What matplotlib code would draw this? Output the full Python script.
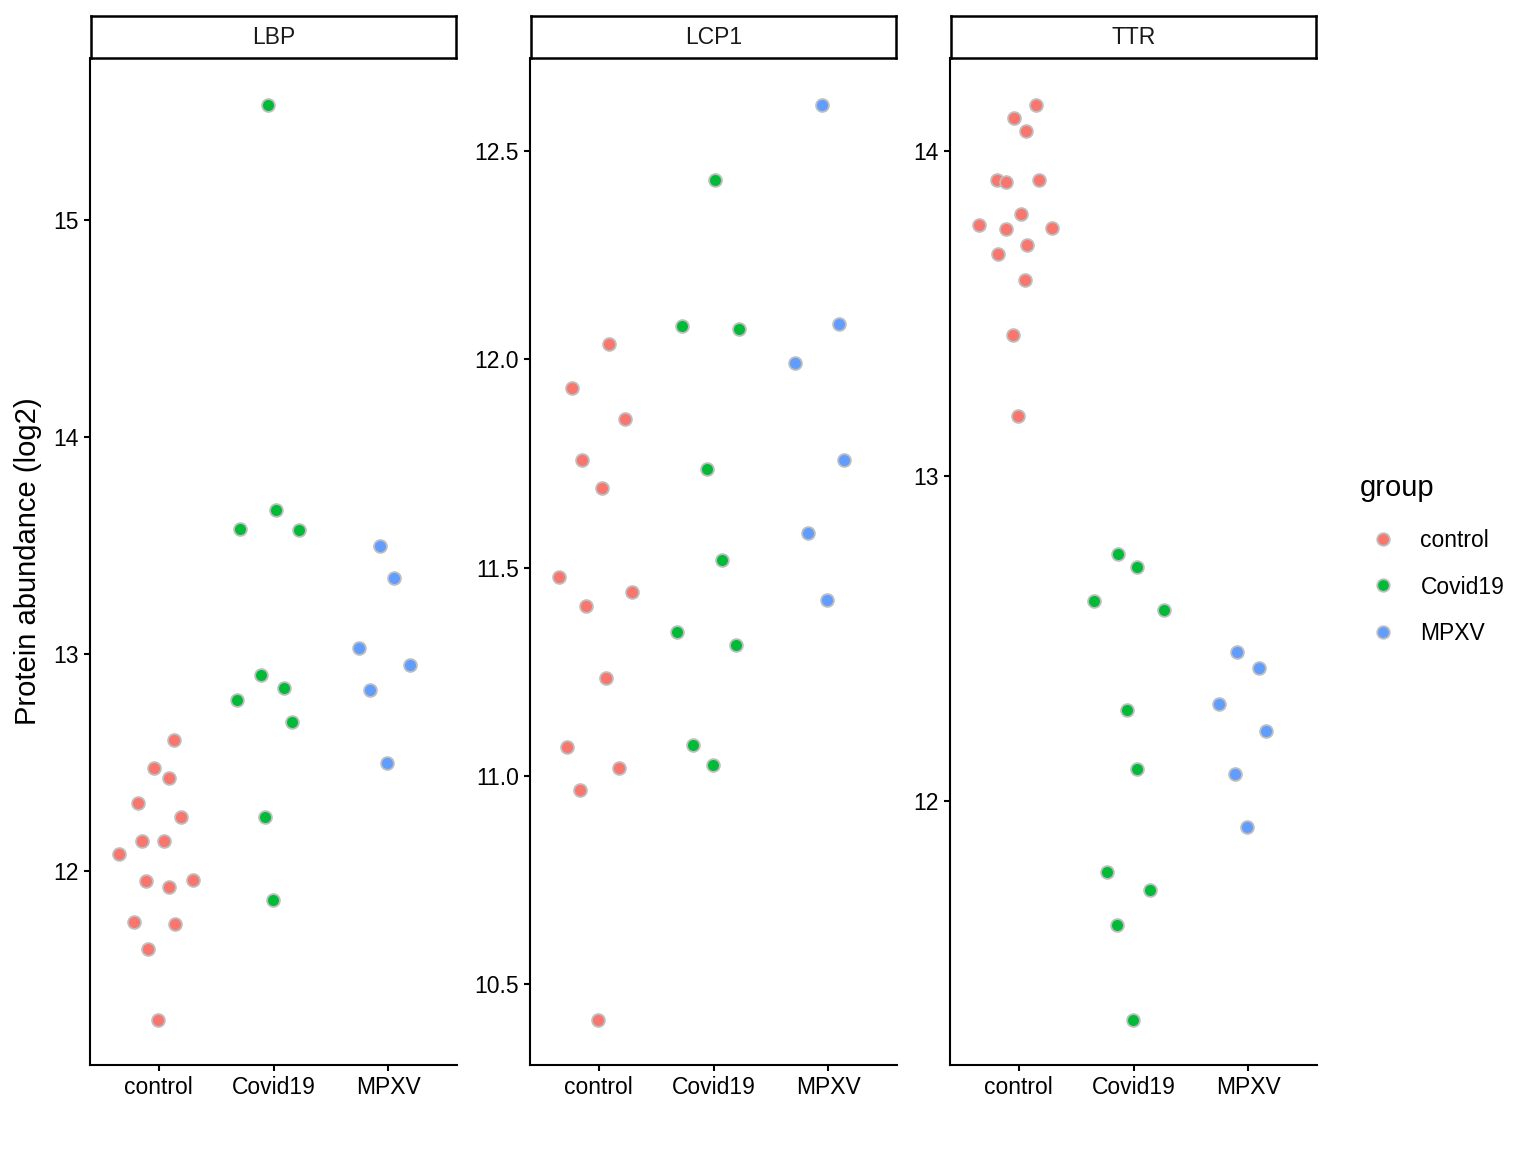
import numpy as np
import matplotlib.pyplot as plt

plt.rcParams['font.family'] = ['Liberation Sans', 'DejaVu Sans']

groups = ['control', 'Covid19', 'MPXV']
colors = {'control': '#F8766D', 'Covid19': '#00BA38', 'MPXV': '#619CFF'}
proteins = ['LBP', 'LCP1', 'TTR']

# jitter offsets (dx) and values
lbp_control_dx = [0.14, -0.03, 0.10, -0.17, 0.20, -0.14, 0.05, -0.34, -0.10, 0.10, 0.31, -0.21, 0.15, -0.09, 0.0]
lbp_control = [12.604, 12.475, 12.429, 12.313, 12.249, 12.138, 12.138, 12.078, 11.954, 11.926, 11.959, 11.765, 11.756, 11.641, 11.313]
lbp_covid_dx = [-0.04, -0.28, 0.03, 0.23, -0.31, -0.10, 0.10, 0.17, -0.07, 0.0]
lbp_covid = [15.530, 13.576, 13.664, 13.571, 12.788, 12.903, 12.843, 12.687, 12.249, 11.866]
lbp_mpxv_dx = [-0.06, 0.06, -0.25, 0.20, -0.15, 0.0]
lbp_mpxv = [13.498, 13.350, 13.028, 12.949, 12.834, 12.498]

lcp1_control_dx = [0.10, -0.23, 0.24, -0.14, 0.04, -0.34, -0.10, 0.30, 0.07, -0.27, 0.18, -0.16, 0.0]
lcp1_control = [12.037, 11.931, 11.857, 11.758, 11.691, 11.477, 11.408, 11.441, 11.235, 11.069, 11.019, 10.966, 10.414]
lcp1_covid_dx = [0.02, -0.27, 0.23, -0.05, 0.08, -0.31, 0.20, -0.17, 0.0]
lcp1_covid = [12.430, 12.080, 12.073, 11.737, 11.518, 11.345, 11.314, 11.074, 11.026]
lcp1_mpxv_dx = [-0.05, 0.10, -0.28, 0.15, -0.17, 0.0]
lcp1_mpxv = [12.610, 12.085, 11.991, 11.758, 11.583, 11.422]

ttr_control_dx = [0.16, -0.03, 0.07, -0.18, -0.10, 0.18, 0.03, -0.34, -0.10, 0.30, 0.08, -0.17, 0.06, -0.04, 0.0]
ttr_control = [14.142, 14.102, 14.062, 13.911, 13.905, 13.911, 13.806, 13.772, 13.760, 13.763, 13.711, 13.683, 13.603, 13.434, 13.185]
ttr_covid_dx = [-0.13, 0.04, -0.34, 0.27, -0.05, 0.04, -0.22, 0.15, -0.14, 0.0]
ttr_covid = [12.760, 12.720, 12.615, 12.588, 12.280, 12.098, 11.782, 11.726, 11.618, 11.326]
ttr_mpxv_dx = [-0.09, 0.10, -0.25, 0.16, -0.11, 0.0]
ttr_mpxv = [12.458, 12.409, 12.298, 12.215, 12.083, 11.920]

data = {
    'LBP': [(lbp_control_dx, lbp_control), (lbp_covid_dx, lbp_covid), (lbp_mpxv_dx, lbp_mpxv)],
    'LCP1': [(lcp1_control_dx, lcp1_control), (lcp1_covid_dx, lcp1_covid), (lcp1_mpxv_dx, lcp1_mpxv)],
    'TTR': [(ttr_control_dx, ttr_control), (ttr_covid_dx, ttr_covid), (ttr_mpxv_dx, ttr_mpxv)],
}
yticks = {'LBP': [12, 13, 14, 15], 'LCP1': [10.5, 11.0, 11.5, 12.0, 12.5], 'TTR': [12, 13, 14]}
ylims = {'LBP': (11.106, 15.747), 'LCP1': (10.306, 12.723), 'TTR': (11.188, 14.286)}
ytick_fmt = {'LBP': '{:.0f}', 'LCP1': '{:.1f}', 'TTR': '{:.0f}'}

fig = plt.figure(figsize=(15.36, 11.52), dpi=100)
lefts = [90, 530, 950]
W, H = 1536, 1152
ax_w = 367
ax_bottom = 1 - 1065 / H
ax_h = (1065 - 58) / H
strip_h = 42 / H

for left, prot in zip(lefts, proteins):
    ax = fig.add_axes([left / W, ax_bottom, ax_w / W, ax_h])
    for gi, (g, (dx, vals)) in enumerate(zip(groups, data[prot])):
        ax.scatter(gi + np.array(dx) - 0.008, vals, s=85, color=colors[g],
                   edgecolor='#BEBEBE', linewidth=1.3, zorder=3)
    ax.set_xlim(-0.6, 2.6)
    ax.set_ylim(*ylims[prot])
    ax.set_xticks(range(3))
    ax.set_xticklabels(groups)
    ax.set_yticks(yticks[prot])
    ax.set_yticklabels([ytick_fmt[prot].format(v) for v in yticks[prot]])
    for s in ['top', 'right']:
        ax.spines[s].set_visible(False)
    for s in ['left', 'bottom']:
        ax.spines[s].set_linewidth(1.5)
    ax.tick_params(labelsize=16.5, width=1.5, length=4, color='black',
                   labelcolor='black', pad=4)
    # strip
    sax = fig.add_axes([(left + 1) / W, 1 - 58 / H, (ax_w - 2) / W, strip_h])
    sax.set_xticks([])
    sax.set_yticks([])
    for s in sax.spines.values():
        s.set_linewidth(1.8)
    sax.text(0.5, 0.5, prot, ha='center', va='center', fontsize=16.5,
             color='#1A1A1A', transform=sax.transAxes)
    if prot == 'LBP':
        ax.set_ylabel('Protein abundance (log2)', fontsize=21, labelpad=8)

# legend
fig.text(1360 / W, 1 - 488 / H, 'group', ha='left', va='center', fontsize=21)
handles = [plt.Line2D([], [], marker='o', linestyle='', markersize=9,
                      markerfacecolor=colors[g], markeredgecolor='#BEBEBE',
                      markeredgewidth=1.3) for g in groups]
fig.legend(handles, groups, loc='center left',
           bbox_to_anchor=(1351 / W, 1 - 587 / H), frameon=False,
           fontsize=16.5, labelspacing=1.02,
           handletextpad=0.63, borderaxespad=0)

fig.savefig('out.png', dpi=100)
